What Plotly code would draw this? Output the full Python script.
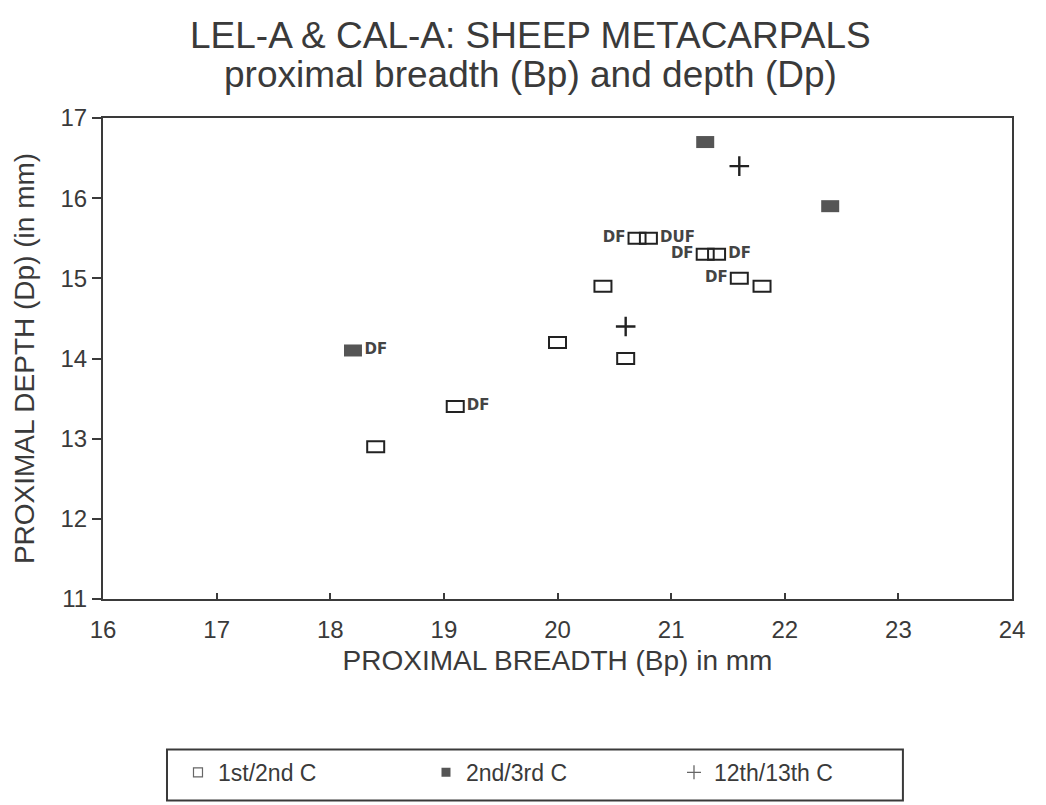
import plotly.graph_objects as go

# ---- data ----
bp_c12 = [18.4, 19.1, 20.0, 20.4, 20.6, 20.7, 20.8, 21.3, 21.4, 21.6, 21.8]
dp_c12 = [12.9, 13.4, 14.2, 14.9, 14.0, 15.5, 15.5, 15.3, 15.3, 15.0, 14.9]
lab_c12 = ["", "DF", "", "", "", "DF", "DUF", "DF", "DF", "DF", ""]
side_c12 = ["", "right", "", "", "", "left", "right", "left", "right", "left", ""]

bp_c23 = [18.2, 21.3, 22.4]
dp_c23 = [14.1, 16.7, 15.9]
lab_c23 = ["DF", "", ""]
side_c23 = ["right", "", ""]

bp_c1213 = [20.6, 21.6]
dp_c1213 = [14.4, 16.4]

series_names = ["1st/2nd C", "2nd/3rd C", "12th/13th C"]
x_ticks = [16, 17, 18, 19, 20, 21, 22, 23, 24]
y_ticks = [11, 12, 13, 14, 15, 16, 17]
title_lines = ["LEL-A & CAL-A: SHEEP METACARPALS", "proximal breadth (Bp) and depth (Dp)"]

INK = "#3a3a3a"
GRAY = "#555555"
FONT = "Liberation Sans, Arial, sans-serif"

fig = go.Figure()

# data traces (hover carriers); visible rectangles are pixel-sized shapes anchored at the data
fig.add_trace(go.Scatter(x=bp_c12, y=dp_c12, mode="markers", name=series_names[0],
    marker=dict(size=16, color="rgba(0,0,0,0)"), showlegend=False))
fig.add_trace(go.Scatter(x=bp_c23, y=dp_c23, mode="markers", name=series_names[1],
    marker=dict(size=16, color="rgba(0,0,0,0)"), showlegend=False))
fig.add_trace(go.Scatter(x=bp_c1213, y=dp_c1213, mode="markers", name=series_names[2],
    marker=dict(symbol="cross-thin", size=14, line=dict(width=2.4, color="#222222")),
    showlegend=False))

shapes = []
for x, y in zip(bp_c12, dp_c12):
    shapes.append(dict(type="rect", xref="x", yref="y", xsizemode="pixel", ysizemode="pixel",
                       xanchor=x, yanchor=y, x0=-8.5, x1=8.5, y0=-5.5, y1=5.5,
                       line=dict(color="#222222", width=2), fillcolor="rgba(0,0,0,0)"))
for x, y in zip(bp_c23, dp_c23):
    shapes.append(dict(type="rect", xref="x", yref="y", xsizemode="pixel", ysizemode="pixel",
                       xanchor=x, yanchor=y, x0=-9, x1=9, y0=-6, y1=6,
                       line=dict(width=0), fillcolor=GRAY))
# legend frame
shapes.append(dict(type="rect", xref="paper", yref="paper", x0=0.0704, x1=0.880,
                   y0=-0.419, y1=-0.313, line=dict(color=INK, width=2), fillcolor="rgba(0,0,0,0)"))

# DF / DUF labels
def add_labels(xs, ys, labs, sides):
    for side in ("left", "right"):
        sx = [x for x, l, s in zip(xs, labs, sides) if l and s == side]
        sy = [y for y, l, s in zip(ys, labs, sides) if l and s == side]
        st = [l for l, s in zip(labs, sides) if l and s == side]
        if not sx:
            continue
        fig.add_trace(go.Scatter(
            x=sx, y=sy, mode="markers+text", text=st,
            textposition="middle " + side,
            marker=dict(size=17, color="rgba(0,0,0,0)"),
            textfont=dict(family="DejaVu Sans", size=15, color="#444444", weight="bold"),
            showlegend=False, hoverinfo="skip"))

add_labels(bp_c12, dp_c12, lab_c12, side_c12)
add_labels(bp_c23, dp_c23, lab_c23, side_c23)

# legend entries
fig.add_trace(go.Scatter(x=[None], y=[None], mode="markers", name=series_names[0],
    marker=dict(symbol="square-open", size=9, color="#666666", line=dict(width=1.2))))
fig.add_trace(go.Scatter(x=[None], y=[None], mode="markers", name=series_names[1],
    marker=dict(symbol="square", size=9, color=GRAY)))
fig.add_trace(go.Scatter(x=[None], y=[None], mode="markers", name=series_names[2],
    marker=dict(symbol="cross-thin", size=10, line=dict(width=1.3, color="#666666"))))

annotations = [
    dict(text=title_lines[0], xref="paper", yref="paper", x=0.470, y=1.172,
         xanchor="center", yanchor="middle", showarrow=False,
         font=dict(family=FONT, size=37, color=INK)),
    dict(text=title_lines[1], xref="paper", yref="paper", x=0.470, y=1.090,
         xanchor="center", yanchor="middle", showarrow=False,
         font=dict(family=FONT, size=37, color=INK)),
]

fig.update_layout(
    width=1046, height=805,
    paper_bgcolor="white", plot_bgcolor="white",
    margin=dict(l=103, r=34, t=118, b=205),
    font=dict(family=FONT, color=INK),
    shapes=shapes, annotations=annotations,
    xaxis=dict(
        range=[16, 24], tickmode="array", tickvals=x_ticks,
        ticks="inside", ticklen=6, tickwidth=1.5, tickcolor=INK,
        showline=True, linecolor=INK, linewidth=2, mirror=True,
        showgrid=False, zeroline=False, ticklabelstandoff=8,
        tickfont=dict(size=24, color=INK),
        title=dict(text="PROXIMAL BREADTH (Bp) in mm", font=dict(size=28, color=INK), standoff=9)),
    yaxis=dict(
        range=[11, 17], tickmode="array", tickvals=y_ticks,
        ticks="outside", ticklen=9, tickwidth=1.5, tickcolor=INK,
        showline=True, linecolor=INK, linewidth=2, mirror=True,
        showgrid=False, zeroline=False,
        tickfont=dict(size=24, color=INK),
        title=dict(text="PROXIMAL DEPTH (Dp) (in mm)", font=dict(size=28, color=INK), standoff=18)),
    legend=dict(
        orientation="h", x=0.0825, xanchor="left", y=-0.313, yanchor="top",
        borderwidth=0, bgcolor="rgba(0,0,0,0)",
        font=dict(size=23, color=INK), entrywidth=203, itemsizing="trace"),
)

fig.write_html("out.html")
